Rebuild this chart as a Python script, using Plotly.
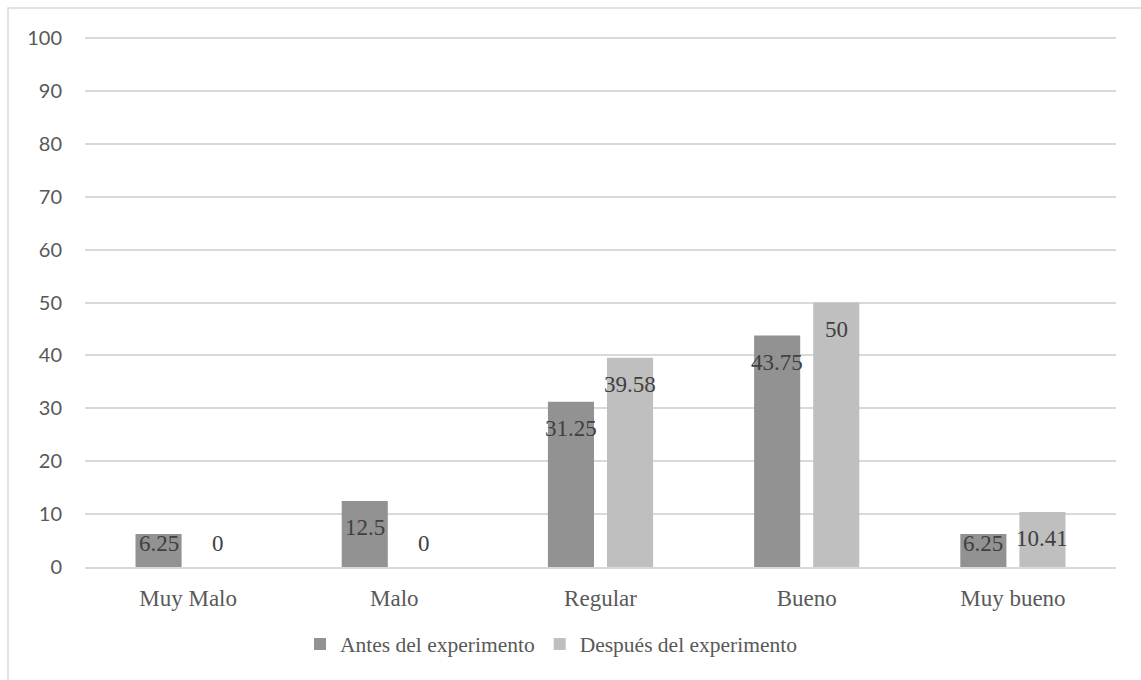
import plotly.graph_objects as go

categories = ["Muy Malo", "Malo", "Regular", "Bueno", "Muy bueno"]
antes = [6.25, 12.5, 31.25, 43.75, 6.25]
despues = [0, 0, 39.58, 50, 10.41]
series_names = ["Antes del experimento", "Después del experimento"]
y_ticks = list(range(0, 101, 10))

DARK = "#929292"
LIGHT = "#bfbfbf"
SERIF = "Liberation Serif"
SANS = "Lato"

W, H = 1141, 680
Y_TOP = 100.4
M_L, M_R, M_T, M_B = 85, 25, 36, 113
plot_h = H - M_T - M_B
px_per_unit = plot_h / Y_TOP
bar_offset_px = 29.5

fig = go.Figure()
for name, vals, color in [(series_names[0], antes, DARK), (series_names[1], despues, LIGHT)]:
    fig.add_trace(go.Bar(
        x=categories, y=vals, name=name,
        marker=dict(color=color, line=dict(width=0)),
        hoverinfo="x+y",
    ))

# value labels: near the top inside each bar, kept above the baseline for short bars
annotations = []
for vals, sign in [(antes, -1), (despues, 1)]:
    for cat, v in zip(categories, vals):
        y_lab = max(v - 27 / px_per_unit, 24 / px_per_unit)
        annotations.append(dict(
            x=cat, y=y_lab, xref="x", yref="y",
            xshift=sign * bar_offset_px,
            text=f"{v:g}", showarrow=False,
            yanchor="middle", xanchor="center",
            font=dict(family=SERIF, size=23, color="#404040"),
        ))

fig.update_layout(
    width=W, height=H,
    margin=dict(l=M_L, r=M_R, t=M_T, b=M_B),
    paper_bgcolor="white", plot_bgcolor="white",
    barmode="group", bargap=0.427, bargroupgap=0.22,
    showlegend=True,
    legend=dict(
        orientation="h", x=0.452, xanchor="center", y=-0.145, yanchor="middle",
        font=dict(family=SERIF, size=21.5, color="#595959"),
        itemwidth=30, traceorder="normal",
    ),
    annotations=annotations,
    shapes=[dict(
        type="rect", xref="paper", yref="paper",
        x0=(8 - M_L) / (W - M_L - M_R), x1=1.2,
        y0=-0.4, y1=1 + (M_T - 8) / plot_h,
        line=dict(color="#d9d9d9", width=1.5), fillcolor="rgba(0,0,0,0)",
        layer="below",
    )],
    xaxis=dict(
        showgrid=False, showline=True, linecolor="#d9d9d9", linewidth=1.5,
        ticks="", ticklabelstandoff=10,
        tickfont=dict(family=SERIF, size=23, color="#595959"),
    ),
    yaxis=dict(
        range=[0, Y_TOP], tickvals=y_ticks, showgrid=True, gridcolor="#d9d9d9",
        gridwidth=1.5, zeroline=False, showline=False, ticks="",
        ticklabelstandoff=22,
        tickfont=dict(family=SANS, size=20, color="#595959"),
    ),
)

fig.write_html("out.html")
